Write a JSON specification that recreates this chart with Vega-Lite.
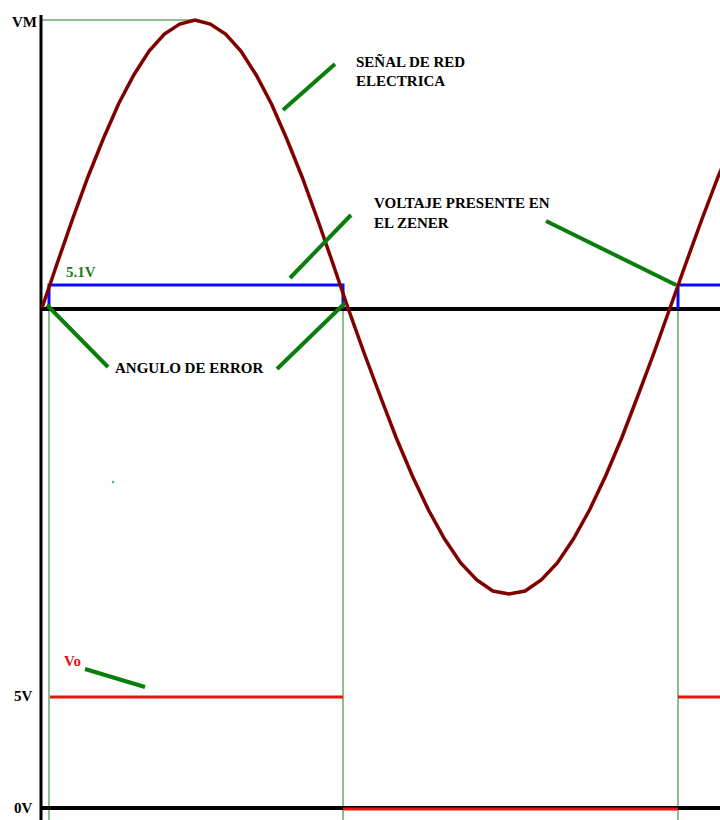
{
  "$schema": "https://vega.github.io/schema/vega-lite/v6.json",
  "width": 720,
  "height": 820,
  "autosize": {"type": "none"},
  "padding": 0,
  "background": "white",
  "config": {"view": {"stroke": null}},
  "datasets": {
    "sine": [
      {"i":0,"t":42,"v":308},{"i":1,"t":57.3,"v":263},{"i":2,"t":72.6,"v":219},{"i":3,"t":87.9,"v":177},
      {"i":4,"t":103.2,"v":139},{"i":5,"t":118.5,"v":104},{"i":6,"t":133.8,"v":75},{"i":7,"t":149.1,"v":51},
      {"i":8,"t":164.4,"v":34},{"i":9,"t":179.7,"v":24},{"i":10,"t":195,"v":20},{"i":11,"t":210.3,"v":24},
      {"i":12,"t":225.6,"v":34},{"i":13,"t":240.9,"v":51},{"i":14,"t":256.2,"v":75},{"i":15,"t":271.5,"v":104},
      {"i":16,"t":286.8,"v":139},{"i":17,"t":302.1,"v":177},{"i":18,"t":317.4,"v":219},{"i":19,"t":332.7,"v":263},
      {"i":20,"t":348,"v":308},{"i":21,"t":364.1,"v":353},{"i":22,"t":380.2,"v":396},{"i":23,"t":396.3,"v":438},
      {"i":24,"t":412.4,"v":476},{"i":25,"t":428.5,"v":510},{"i":26,"t":444.6,"v":539},{"i":27,"t":460.7,"v":563},
      {"i":28,"t":476.8,"v":580},{"i":29,"t":492.9,"v":591},{"i":30,"t":509,"v":594},{"i":31,"t":525.1,"v":591},
      {"i":32,"t":541.2,"v":580},{"i":33,"t":557.3,"v":563},{"i":34,"t":573.4,"v":539},{"i":35,"t":589.5,"v":510},
      {"i":36,"t":605.6,"v":476},{"i":37,"t":621.7,"v":438},{"i":38,"t":637.8,"v":396},{"i":39,"t":653.9,"v":353},
      {"i":40,"t":670,"v":308},{"i":41,"t":686,"v":263},{"i":42,"t":702,"v":219},{"i":43,"t":718,"v":177},
      {"i":44,"t":734,"v":139}
    ],
    "zener": [
      {"g":"a","i":0,"t":49,"v":309},{"g":"a","i":1,"t":49,"v":285},{"g":"a","i":2,"t":343,"v":285},{"g":"a","i":3,"t":343,"v":309},
      {"g":"b","i":0,"t":678,"v":309},{"g":"b","i":1,"t":678,"v":285},{"g":"b","i":2,"t":720,"v":285}
    ],
    "segments": [
      {"k":"guide","t":42,"v":20,"t2":195,"v2":20},
      {"k":"guide","t":49,"v":300,"t2":49,"v2":820},
      {"k":"guide","t":343,"v":300,"t2":343,"v2":820},
      {"k":"guide","t":678,"v":300,"t2":678,"v2":820},
      {"k":"axis","t":41,"v":15,"t2":41,"v2":820},
      {"k":"base","t":41,"v":309,"t2":720,"v2":309},
      {"k":"base","t":41,"v":808,"t2":720,"v2":808},
      {"k":"vo","t":50,"v":697,"t2":343,"v2":697},
      {"k":"vo","t":343,"v":809,"t2":678,"v2":809},
      {"k":"vo","t":678,"v":697,"t2":720,"v2":697},
      {"k":"pointer","t":283,"v":110,"t2":335,"v2":64},
      {"k":"pointer","t":290,"v":278,"t2":351,"v2":215},
      {"k":"pointer","t":546,"v":221,"t2":676,"v2":285},
      {"k":"pointer","t":47,"v":305,"t2":108,"v2":367},
      {"k":"pointer","t":277,"v":369,"t2":345,"v2":303},
      {"k":"pointer","t":85,"v":669,"t2":145,"v2":687}
    ],
    "labels": [
      {"label":"VM","t":12,"v":22,"c":"black"},
      {"label":"SEÑAL DE RED","t":356,"v":62,"c":"black"},
      {"label":"ELECTRICA","t":356,"v":81,"c":"black"},
      {"label":"VOLTAJE PRESENTE EN","t":374,"v":203,"c":"black"},
      {"label":"EL ZENER","t":374,"v":223,"c":"black"},
      {"label":"5.1V","t":66,"v":272,"c":"green"},
      {"label":"ANGULO DE ERROR","t":115,"v":368,"c":"black"},
      {"label":"Vo","t":64,"v":661,"c":"red"},
      {"label":"5V","t":14,"v":696,"c":"black"},
      {"label":"0V","t":14,"v":808,"c":"black"}
    ],
    "dots": [{"t":113,"v":482}]
  },
  "layer": [
    {
      "data": {"name": "segments"},
      "transform": [{"filter": "datum.k == 'guide'"}],
      "mark": {"type": "rule", "color": "#1a801a", "strokeWidth": 1},
      "encoding": {
        "x": {"field": "t", "type": "quantitative", "scale": {"domain": [0, 720], "nice": false, "zero": false}, "axis": null},
        "y": {"field": "v", "type": "quantitative", "scale": {"domain": [0, 820], "nice": false, "reverse": true, "zero": false}, "axis": null},
        "x2": {"field": "t2"},
        "y2": {"field": "v2"}
      }
    },
    {
      "data": {"name": "segments"},
      "transform": [{"filter": "datum.k == 'axis'"}],
      "mark": {"type": "rule", "color": "black", "strokeWidth": 3},
      "encoding": {
        "x": {"field": "t", "type": "quantitative"},
        "y": {"field": "v", "type": "quantitative"},
        "x2": {"field": "t2"},
        "y2": {"field": "v2"}
      }
    },
    {
      "data": {"name": "segments"},
      "transform": [{"filter": "datum.k == 'base'"}],
      "mark": {"type": "rule", "color": "black", "strokeWidth": 4},
      "encoding": {
        "x": {"field": "t", "type": "quantitative"},
        "y": {"field": "v", "type": "quantitative"},
        "x2": {"field": "t2"},
        "y2": {"field": "v2"}
      }
    },
    {
      "data": {"name": "segments"},
      "transform": [{"filter": "datum.k == 'vo'"}],
      "mark": {"type": "rule", "color": "#ee1111", "strokeWidth": 3},
      "encoding": {
        "x": {"field": "t", "type": "quantitative"},
        "y": {"field": "v", "type": "quantitative"},
        "x2": {"field": "t2"},
        "y2": {"field": "v2"}
      }
    },
    {
      "data": {"name": "zener"},
      "mark": {"type": "line", "color": "#0a0aff", "strokeWidth": 3, "strokeJoin": "miter"},
      "encoding": {
        "x": {"field": "t", "type": "quantitative"},
        "y": {"field": "v", "type": "quantitative"},
        "detail": {"field": "g"},
        "order": {"field": "i", "type": "quantitative"}
      }
    },
    {
      "data": {"name": "sine"},
      "mark": {"type": "line", "color": "#800000", "strokeWidth": 3.5, "clip": true},
      "encoding": {
        "x": {"field": "t", "type": "quantitative"},
        "y": {"field": "v", "type": "quantitative"},
        "order": {"field": "i", "type": "quantitative"}
      }
    },
    {
      "data": {"name": "segments"},
      "transform": [{"filter": "datum.k == 'pointer'"}],
      "mark": {"type": "rule", "color": "#0b7d0b", "strokeWidth": 4},
      "encoding": {
        "x": {"field": "t", "type": "quantitative"},
        "y": {"field": "v", "type": "quantitative"},
        "x2": {"field": "t2"},
        "y2": {"field": "v2"}
      }
    },
    {
      "data": {"name": "dots"},
      "mark": {"type": "point", "filled": true, "color": "#1e8a1e", "size": 6},
      "encoding": {
        "x": {"field": "t", "type": "quantitative"},
        "y": {"field": "v", "type": "quantitative"}
      }
    },
    {
      "data": {"name": "labels"},
      "mark": {"type": "text", "align": "left", "baseline": "middle", "font": "'Liberation Serif', 'DejaVu Serif', serif", "fontWeight": "bold", "fontSize": 15},
      "encoding": {
        "x": {"field": "t", "type": "quantitative"},
        "y": {"field": "v", "type": "quantitative"},
        "text": {"field": "label"},
        "color": {"field": "c", "type": "nominal", "scale": {"domain": ["black", "green", "red"], "range": ["#000000", "#1e7a1e", "#e01010"]}, "legend": null}
      }
    }
  ]
}
